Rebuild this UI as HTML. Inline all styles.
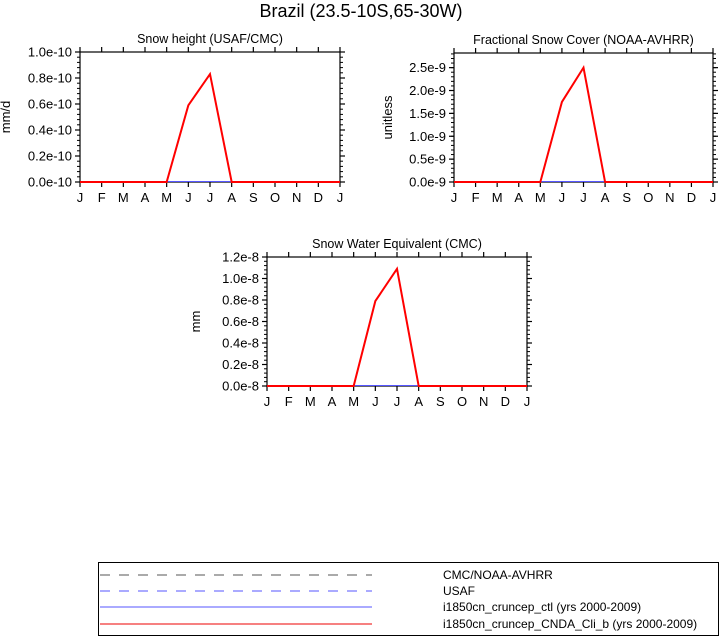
<!DOCTYPE html>
<html><head><meta charset="utf-8"><style>
body{margin:0;background:#fff;}
svg{display:block;font-family:"Liberation Sans",Arial,sans-serif;}
</style></head><body>
<svg id="s" width="722" height="637" viewBox="0 0 722 637" xmlns="http://www.w3.org/2000/svg">
<text x="361" y="17" font-size="18" text-anchor="middle">Brazil (23.5-10S,65-30W)</text>
<g>
<rect x="98.5" y="562.5" width="620" height="73" fill="none" stroke="#000" stroke-width="1"/>
<line x1="100" y1="575" x2="372" y2="575" stroke="#555" stroke-dasharray="10,9"/>
<text x="443" y="579" font-size="12">CMC/NOAA-AVHRR</text>
<line x1="100" y1="591" x2="372" y2="591" stroke="#5555ff" stroke-dasharray="10,9"/>
<text x="443" y="595" font-size="12">USAF</text>
<line x1="100" y1="607" x2="372" y2="607" stroke="#5555ff"/>
<text x="443" y="611" font-size="12">i1850cn_cruncep_ctl (yrs 2000-2009)</text>
<line x1="100" y1="624" x2="372" y2="624" stroke="#e00"/>
<text x="443" y="628" font-size="12">i1850cn_cruncep_CNDA_Cli_b (yrs 2000-2009)</text>
</g>
</svg>
<script>
const months = ["J","F","M","A","M","J","J","A","S","O","N","D","J"];
const snowHeight = [0,0,0,0,0,0.59,0.83,0,0,0,0,0,0];
const snowHeightTicks = ["0.0e-10","0.2e-10","0.4e-10","0.6e-10","0.8e-10","1.0e-10"];
const snowHeightTickVals = [0,0.2,0.4,0.6,0.8,1.0];
const snowCover = [0,0,0,0,0,1.75,2.5,0,0,0,0,0,0];
const snowCoverTicks = ["0.0e-9","0.5e-9","1.0e-9","1.5e-9","2.0e-9","2.5e-9"];
const snowCoverTickVals = [0,0.5,1.0,1.5,2.0,2.5];
const swe = [0,0,0,0,0,0.79,1.09,0,0,0,0,0,0];
const sweTicks = ["0.0e-8","0.2e-8","0.4e-8","0.6e-8","0.8e-8","1.0e-8","1.2e-8"];
const sweTickVals = [0,0.2,0.4,0.6,0.8,1.0,1.2];

const svg = document.getElementById('s');
const NS = "http://www.w3.org/2000/svg";
function mk(tag, attrs, parent){
  const e = document.createElementNS(NS, tag);
  for (const k in attrs) e.setAttribute(k, attrs[k]);
  parent.appendChild(e); return e;
}
function panel(name, title, ylabel, ylabOff, x0, x1, y0, y1, ymax, vals, tickVals, tickLabels){
  const g = mk('g', {}, svg);
  
  
  const xs = i => x0 + (x1 - x0) * i / 12;
  const ys = v => y1 - (y1 - y0) * v / ymax;
  const t = mk('text', {x:(x0+x1)/2, y:y0-9, 'font-size':12.5, 'text-anchor':'middle'}, g);
  t.textContent = title;
  
  
  const yl = mk('text', {transform:`translate(${x0-ylabOff},${(y0+y1)/2}) rotate(-90)`, 'font-size':13, 'text-anchor':'middle'}, g);
  yl.textContent = ylabel;
  
  
  const minorStep = (tickVals[1]-tickVals[0])/5;
  for (let v = 0; v <= ymax + 1e-9; v += minorStep){
    const y = ys(v);
    mk('line', {x1:x0-3, x2:x0, y1:y, y2:y, stroke:'#000', 'stroke-width':1}, g);
    mk('line', {x1:x1, x2:x1+3, y1:y, y2:y, stroke:'#000', 'stroke-width':1}, g);
  }
  tickVals.forEach((v, i) => {
    const y = ys(v);
    mk('line', {x1:x0-5, x2:x0, y1:y, y2:y, stroke:'#000', 'stroke-width':1.2}, g);
    mk('line', {x1:x1, x2:x1+5, y1:y, y2:y, stroke:'#000', 'stroke-width':1.2}, g);
    const tl = mk('text', {x:x0-8, y:y+4.5, 'font-size':13, 'text-anchor':'end'}, g);
    tl.textContent = tickLabels[i];
    
    
  });
  months.forEach((m, i) => {
    const x = xs(i);
    mk('line', {x1:x, x2:x, y1:y1, y2:y1+5, stroke:'#000', 'stroke-width':1.2}, g);
    mk('line', {x1:x, x2:x, y1:y0-5, y2:y0, stroke:'#000', 'stroke-width':1.2}, g);
    const tl = mk('text', {x:x, y:y1+20, 'font-size':13, 'text-anchor':'middle'}, g);
    tl.textContent = m;
    
    
  });
  const fr = mk('rect', {x:x0, y:y0, width:x1-x0, height:y1-y0, fill:'none', stroke:'#000', 'stroke-width':1.2}, g);
  
  
  const base = mk('line', {x1:x0, x2:x1, y1:y1-0.5, y2:y1-0.5, stroke:'#5555ff', 'stroke-width':1}, g);
  
  
  const pts = vals.map((v, i) => xs(i) + ',' + ys(v)).join(' ');
  const pl = mk('polyline', {points:pts, fill:'none', stroke:'#f00', 'stroke-width':2}, g);
  
  
}
panel('snow-height-panel', 'Snow height (USAF/CMC)', 'mm/d', 70, 80, 340, 52, 182, 1.0, snowHeight, snowHeightTickVals, snowHeightTicks);
panel('snow-cover-panel', 'Fractional Snow Cover (NOAA-AVHRR)', 'unitless', 62, 454, 713, 53, 182, 2.82, snowCover, snowCoverTickVals, snowCoverTicks);
panel('swe-panel', 'Snow Water Equivalent (CMC)', 'mm', 67, 267, 527, 257, 386, 1.2, swe, sweTickVals, sweTicks);
</script>
</body></html>
